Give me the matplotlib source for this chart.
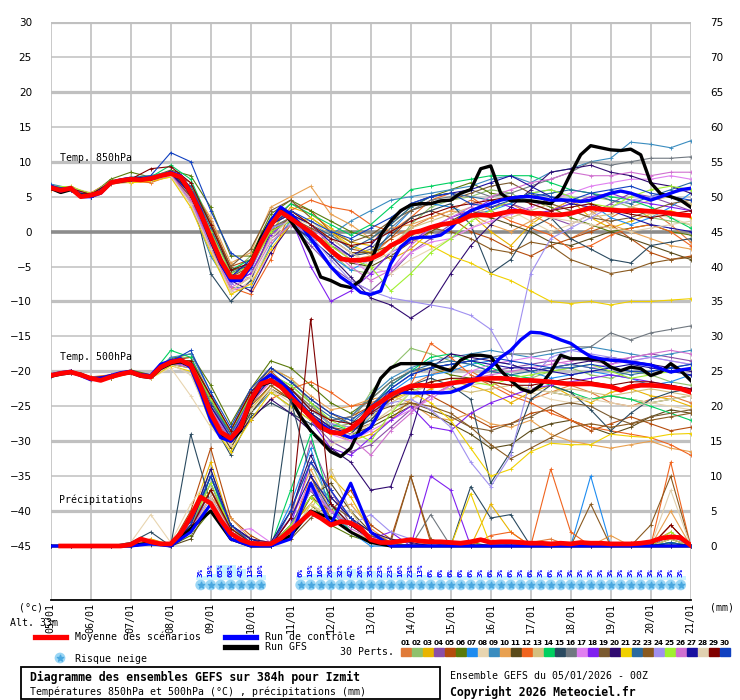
import numpy as np
import matplotlib
matplotlib.use('Agg')
import matplotlib.pyplot as plt
from matplotlib.patches import Rectangle

MONO = 'DejaVu Sans Mono'

HOURS6 = list(range(0, 385, 6))
HOURS12 = list(range(0, 385, 12))
DAY_HOURS = list(range(0, 385, 24))
DATES = ['05/01', '06/01', '07/01', '08/01', '09/01', '10/01', '11/01', '12/01', '13/01',
         '14/01', '15/01', '16/01', '17/01', '18/01', '19/01', '20/01', '21/01']

MEMBER_COLORS = ['#e07b39', '#8fc16c', '#e8b400', '#8b4fa8', '#b54c0c', '#5a7a0a', '#1e8cf0',
                 '#e8d5b0', '#3a8cbf', '#e8a050', '#5a4a1a', '#f0641e', '#d4c080', '#00d060',
                 '#2a4a60', '#707880', '#e080f0', '#8020f0', '#7a5a30', '#300a70', '#f0d000',
                 '#2a6aa0', '#8a5a20', '#a090f0', '#a0f030', '#d070d0', '#1a10a0', '#e0d0b0',
                 '#800000', '#1040c0']

# 850 hPa, 6-hourly
T850_MEAN = [6.3, 5.9, 6.2, 5.0, 5.2, 5.6, 7.0, 7.3, 7.5, 7.4, 7.6, 8.0, 8.3, 7.8, 5.6,
             2.6, -0.8, -4.1, -6.5, -6.5, -4.6, -1.7, 0.9, 2.8, 1.9, 0.9, -0.1, -1.3, -2.7, -3.9,
             -4.1, -4.1, -3.9, -3.2, -2.0, -1.3, -0.2, 0.1, 0.6, 1.0, 1.2, 1.6, 2.3, 2.4, 2.3,
             2.6, 2.9, 2.9, 2.6, 2.6, 2.4, 2.4, 2.6, 3.0, 3.4, 3.2, 3.1, 3.0, 3.0, 3.0,
             2.9, 2.8, 2.6, 2.4, 2.3]
T850_CTRL = [6.5, 5.8, 6.3, 5.0, 5.0, 5.5, 7.0, 7.4, 7.6, 7.5, 7.7, 8.0, 8.5, 8.0, 5.8,
             3.0, -1.0, -4.5, -7.0, -7.0, -5.0, -1.5, 1.5, 3.5, 2.5, 1.0, -1.0, -3.0, -5.0, -6.5,
             -7.5, -8.7, -9.0, -8.5, -4.6, -2.2, -1.0, -0.8, -0.8, -0.5, 0.5, 2.0, 3.0, 3.5, 4.0,
             4.5, 4.8, 5.0, 5.0, 4.8, 4.5, 4.5, 4.5, 4.3, 4.5, 5.0, 5.5, 5.8, 5.5, 5.0,
             4.5, 5.0, 5.5, 6.0, 6.2]
T850_GFS = [6.2, 5.6, 6.0, 5.2, 5.3, 5.6, 7.0, 7.2, 7.4, 7.6, 7.5, 8.0, 8.4, 7.6, 5.4,
            2.5, -1.2, -4.5, -6.8, -7.0, -4.5, -1.0, 1.5, 3.3, 1.5, -0.5, -3.0, -6.5, -7.0, -7.7,
            -8.0, -7.0, -4.5, -0.5, 1.5, 3.0, 3.8, 4.0, 4.0, 4.4, 4.5, 5.5, 6.0, 9.0, 9.4,
            5.5, 4.4, 4.4, 4.4, 4.2, 4.0, 5.4, 8.3, 11.0, 12.3, 12.0, 11.7, 11.6, 11.8, 11.0,
            7.0, 5.4, 5.0, 4.5, 3.5]

# 850 hPa members, 12-hourly
T850_MEMBERS = [
    [6.5, 6.0, 5.5, 7.2, 7.8, 7.2, 8.0, 6.0, -0.5, -7.0, -5.0, 1.5, 3.0, 1.0, -2.0, -4.0, -3.5, -1.0, 0.5, 2.0, 3.0, 4.5, 3.5, 4.0, 2.5, 1.0, -1.0, 0.5, 2.0, 3.5, 3.0, 1.0, -1.5],
    [6.2, 6.3, 5.0, 7.0, 7.5, 8.0, 8.5, 6.5, 0.5, -6.0, -3.5, 2.0, 2.5, 0.0, -3.0, -5.5, -6.0, -3.0, 1.0, 3.5, 4.5, 5.0, 6.0, 5.5, 4.0, 3.0, 4.0, 5.0, 4.5, 3.5, 2.0, 1.5, 1.0],
    [6.0, 6.5, 5.3, 6.8, 7.2, 7.5, 8.0, 4.5, -2.0, -8.5, -6.5, 0.0, 3.5, 2.5, 0.5, -1.5, -2.0, -4.0, -2.5, 0.0, 1.5, 2.5, 0.0, -2.0, 1.0, 3.0, 4.5, 2.0, 0.5, 1.5, 2.5, 3.0, 2.0],
    [6.4, 6.1, 5.1, 7.3, 7.6, 7.4, 8.2, 5.0, -1.5, -7.5, -6.0, -1.0, 1.0, -2.0, -5.0, -7.0, -8.5, -6.0, -3.0, -1.0, 1.0, 2.5, 3.5, 4.0, 3.0, 2.0, 1.0, 2.5, 4.0, 5.5, 5.0, 4.0, 3.0],
    [6.6, 6.2, 5.4, 7.1, 7.4, 7.6, 8.6, 7.0, 1.5, -5.0, -4.0, 1.0, 4.0, 3.0, 0.0, -2.5, -3.0, -1.0, 2.0, 3.0, 2.0, 0.0, -1.0, -2.5, -3.5, -2.0, -1.0, 0.0, 1.0, -1.0, -3.0, -4.0, -3.5],
    [6.3, 6.4, 5.2, 7.5, 8.5, 7.8, 8.8, 8.0, 3.5, -3.5, -3.5, 2.5, 4.5, 3.0, 1.5, 0.0, -1.0, 1.0, 3.5, 5.0, 6.0, 7.0, 5.5, 5.0, 4.5, 3.5, 2.0, 1.0, 0.0, 0.5, 1.0, 0.0, -0.5],
    [6.2, 6.0, 5.0, 6.9, 7.3, 7.7, 8.4, 5.5, -0.5, -6.5, -4.5, 0.5, 1.5, -1.0, -3.5, -5.5, -4.0, 0.0, 3.0, 4.0, 3.5, 2.5, 3.0, 4.0, 5.5, 6.0, 5.0, 4.0, 2.0, 1.0, 2.0, 3.5, 5.5],
    [6.5, 6.3, 5.6, 7.0, 7.0, 7.3, 7.8, 3.5, -3.0, -9.0, -7.0, -2.0, 2.0, 0.5, -1.0, -3.0, -5.0, -6.0, -4.0, -2.5, -1.0, 0.5, 2.0, 3.0, 1.5, 0.0, 1.0, 2.5, 3.5, 3.0, 2.5, 2.0, 1.0],
    [6.8, 6.2, 5.4, 7.2, 7.8, 8.0, 8.6, 4.0, -3.5, -8.0, -8.0, -2.0, 1.5, -1.5, -0.5, 1.5, 3.0, 4.5, 5.0, 5.5, 6.0, 6.5, 7.5, 8.0, 7.0, 8.5, 9.0, 10.0, 10.5, 12.8, 12.5, 12.0, 13.0],
    [6.1, 6.0, 5.3, 6.8, 7.1, 7.4, 8.0, 6.5, 2.0, -4.5, -3.0, 3.5, 5.0, 6.5, 2.5, 1.0, -1.0, 0.5, 1.0, 2.0, 3.0, 2.5, 1.0, 0.0, 1.5, 3.0, 4.5, 3.0, 1.0, 0.0, -1.0, -2.0, -2.5],
    [6.3, 6.1, 5.0, 7.0, 7.6, 7.5, 8.1, 6.0, 0.0, -5.5, -5.0, 0.5, 2.0, 0.0, -2.5, -4.5, -5.0, -3.5, -1.5, 0.0, 1.5, 3.0, 2.0, 1.0, 0.0, -1.5, -2.0, -1.0, 0.0, -1.0, -2.0, -3.0, -4.0],
    [6.4, 6.2, 5.5, 7.2, 7.2, 7.0, 8.0, 5.0, -2.5, -8.0, -9.0, -4.0, 3.0, 4.5, 3.5, 3.0, 1.0, 0.0, 2.0, 4.5, 5.5, 5.0, 3.0, 1.5, 0.5, -0.5, -2.5, -2.0, -0.5, 0.5, 1.0, 0.0, -2.0],
    [6.2, 6.4, 5.3, 6.9, 7.4, 7.6, 8.2, 4.8, -1.5, -7.0, -6.5, -0.5, 2.0, 1.5, -0.5, -2.0, -3.5, -2.0, 0.5, 1.5, 2.5, 3.5, 2.5, 2.0, 3.0, 4.0, 3.0, 2.0, 2.5, 3.5, 4.5, 5.0, 4.0],
    [6.3, 6.3, 5.2, 7.1, 7.7, 7.8, 9.5, 7.5, 1.0, -5.5, -4.0, 1.5, 4.0, 2.5, 1.0, -0.5, 1.0, 3.5, 6.0, 6.5, 7.0, 7.5, 8.0, 8.0, 8.0, 7.0, 6.0, 5.5, 5.0, 4.5, 3.5, 2.0, 0.5],
    [6.5, 6.0, 5.1, 7.0, 7.3, 7.5, 8.3, 6.0, -6.0, -10.0, -7.0, 0.0, 1.5, -0.5, -2.0, -3.5, -3.0, -0.5, 2.0, 3.0, 4.0, 1.0, -6.0, -4.0, 0.5, 2.0, -1.0, -2.5, -4.0, -4.5, -2.0, -1.5, -1.0],
    [6.1, 6.2, 5.0, 7.0, 7.5, 7.3, 8.0, 5.5, -1.0, -7.0, -5.5, 0.5, 2.0, 0.0, -2.0, -3.5, -2.5, 0.5, 3.0, 4.5, 5.0, 6.0, 5.0, 5.5, 6.5, 7.5, 8.5, 10.0, 9.5, 10.0, 10.5, 10.5, 10.7],
    [6.0, 6.1, 5.2, 7.1, 7.5, 7.5, 8.1, 4.0, -2.5, -8.5, -7.5, -3.0, 1.0, 0.5, -1.5, -4.0, -6.0, -5.5, -3.0, -1.5, -1.0, 0.5, 1.5, 2.5, 3.5, 4.5, 5.5, 6.5, 7.0, 7.5, 7.5, 8.0, 7.5],
    [6.3, 6.0, 5.3, 6.9, 7.3, 7.6, 8.3, 5.0, -2.0, -7.5, -6.0, -0.5, 2.0, -5.0, -10.0, -8.5, -6.0, -3.0, -1.5, 0.5, 2.0, 3.0, 4.5, 3.5, 2.5, 3.0, 4.0, 5.0, 5.5, 4.5, 4.0, 3.5, 3.0],
    [6.4, 6.3, 5.2, 7.0, 7.6, 7.7, 8.2, 6.5, 1.0, -5.0, -2.5, 3.0, 4.5, 2.0, 0.0, -1.5, -0.5, 1.5, 3.0, 4.0, 4.5, 5.5, 6.5, 7.0, 5.5, 4.0, 3.0, 2.0, 1.5, 2.0, 3.0, 4.0, 4.5],
    [6.2, 6.1, 5.0, 7.1, 7.4, 7.5, 8.4, 6.0, -0.5, -7.0, -8.5, -3.0, 1.0, -1.0, -3.5, -6.5, -9.5, -10.5, -12.4, -10.5, -6.0, -2.0, 1.0, 3.5, 6.0, 8.5, 9.0, 9.5, 8.5, 8.0, 7.0, 6.5, 5.5],
    [6.0, 6.3, 5.4, 7.1, 7.0, 7.2, 7.8, 3.5, -3.0, -9.0, -7.5, -2.5, 1.0, 2.0, 0.0, -2.0, -3.0, -2.0, -1.0, -2.0, -3.5, -4.5, -6.0, -7.0, -8.5, -10.0, -10.3, -10.0, -10.5, -10.0, -10.0, -9.8, -9.6],
    [6.5, 6.2, 5.3, 7.2, 7.5, 7.5, 8.5, 6.5, 0.5, -6.0, -4.5, 1.0, 2.5, 1.0, -0.5, -2.5, -1.0, 1.0, 3.5, 5.0, 5.5, 5.0, 4.5, 4.5, 5.0, 5.5, 6.0, 5.5, 4.5, 4.0, 5.0, 6.0, 7.0],
    [6.3, 6.2, 5.1, 6.9, 7.6, 7.6, 8.1, 5.0, -1.0, -6.5, -5.0, 0.0, 2.0, 0.5, -1.0, -3.0, -3.0, -2.0, -0.5, 0.5, 0.0, -1.0, -2.5, -3.0, -1.5, -2.0, -4.0, -5.0, -6.0, -5.5, -4.5, -4.0, -3.7],
    [6.2, 6.0, 5.2, 7.0, 7.4, 7.4, 8.0, 4.5, -2.0, -7.5, -5.5, 0.5, 1.5, -0.5, -4.0, -7.0, -8.5, -9.5, -10.0, -10.5, -11.0, -12.0, -14.0, -19.0, -6.0, -1.0, 0.5, 2.0, 3.5, 4.5, 5.0, 5.5, 6.0],
    [6.5, 6.4, 5.4, 7.2, 7.6, 7.8, 8.6, 6.0, 0.0, -6.0, -5.0, 0.0, 1.5, 0.0, -2.0, -4.0, -5.0, -8.5, -6.0, -3.0, -1.0, 1.5, 3.0, 4.5, 5.5, 6.0, 5.0, 4.0, 3.5, 5.0, 6.0, 6.5, 6.0],
    [6.1, 6.2, 5.1, 7.0, 7.3, 7.5, 8.2, 4.5, -2.5, -8.0, -6.5, -1.5, 1.0, -0.5, -2.5, -5.0, -7.0, -5.5, -2.0, 0.5, 2.0, 3.5, 5.0, 6.0, 7.0, 7.5, 8.5, 8.0, 8.0, 8.5, 8.0, 8.5, 8.5],
    [6.4, 6.1, 5.3, 7.1, 7.5, 7.6, 8.3, 5.5, -1.0, -6.5, -4.0, 1.0, 2.5, 1.0, -1.5, -3.5, -2.0, 1.5, 4.0, 5.0, 5.5, 6.0, 7.0, 8.0, 6.5, 5.0, 4.0, 3.5, 3.0, 2.0, 1.0, 0.5, 0.0],
    [6.2, 6.3, 5.2, 6.8, 7.2, 7.4, 8.0, 4.0, -2.5, -8.5, -6.5, -1.0, 2.0, 1.0, -1.0, -3.0, -4.5, -3.0, -1.0, 0.5, 1.5, 2.0, 2.5, 3.0, 2.5, 2.0, 1.5, 1.0, 0.5, 0.0, 0.5, 1.0, 1.5],
    [6.3, 6.2, 5.3, 7.0, 7.5, 9.0, 9.3, 7.0, 1.0, -5.5, -4.5, 1.0, 3.0, 1.0, -1.0, -2.0, -1.5, 0.0, 1.5, 2.5, 3.5, 4.0, 4.5, 5.0, 4.0, 3.0, 3.5, 4.0, 3.0, 2.5, 2.0, 2.5, 3.0],
    [6.6, 6.0, 5.0, 7.0, 7.5, 8.0, 11.3, 10.0, 3.0, -3.0, -5.0, 1.0, 3.0, 1.5, 0.0, -1.0, 0.5, 2.0, 4.0, 5.0, 5.5, 4.0, 3.5, 4.5, 5.5, 5.0, 4.5, 5.5, 6.0, 6.5, 5.5, 5.0, 4.5],
]

# 500 hPa, 6-hourly
T500_MEAN = [-20.6, -20.3, -20.1, -20.5, -21.0, -21.3, -20.8, -20.4, -20.1, -20.6, -20.8, -19.4, -18.7, -18.4, -19.1,
             -22.2, -26.0, -28.7, -29.6, -28.0, -24.1, -21.8, -21.3, -22.2, -23.7,
             -25.1, -26.5, -28.0, -28.7, -28.9, -28.2, -27.0, -25.3, -24.4, -23.4,
             -22.7, -22.1, -22.0, -22.1, -22.0, -21.7, -21.5, -21.3, -21.1, -21.0,
             -21.0, -21.1, -21.3, -21.3, -21.4, -21.5, -21.7, -21.8, -21.8, -21.8,
             -22.0, -22.2, -22.7, -22.2, -22.0, -22.0, -22.1, -22.3, -22.5, -23.0]
T500_CTRL = [-20.5, -20.2, -20.0, -20.6, -21.2, -21.0, -20.6, -20.2, -20.0, -20.5, -20.6, -19.0, -18.5, -18.2, -19.5,
             -23.0, -27.0, -29.5, -30.0, -28.0, -24.0, -21.5, -20.5, -21.5, -23.0,
             -25.0, -26.5, -27.5, -28.5, -29.0, -29.5, -29.0, -28.0, -25.5, -23.0,
             -23.0, -23.1, -23.1, -23.0, -23.1, -23.0, -22.5, -21.8, -20.5, -19.4,
             -18.0, -17.0, -15.5, -14.4, -14.5, -14.9, -15.5, -16.0, -17.0, -17.9,
             -18.2, -18.4, -18.5, -18.7, -18.9, -19.1, -19.6, -20.1, -19.8, -19.6]
T500_GFS = [-20.7, -20.4, -20.2, -20.4, -21.0, -21.2, -20.7, -20.3, -20.2, -20.7, -20.9, -19.6, -18.9, -18.6, -19.3,
            -22.5, -26.5, -29.0, -30.0, -28.5, -24.5, -22.0, -21.5, -22.0, -24.0,
            -26.5, -28.5, -30.0, -31.5, -32.2, -31.0, -28.0, -24.0, -21.0, -19.5,
            -18.9, -18.9, -18.9, -18.9, -19.5, -19.9, -18.4, -17.7, -17.7, -17.9,
            -19.9, -21.3, -22.5, -23.0, -22.0, -20.1, -17.7, -18.2, -18.2, -18.2,
            -18.4, -19.4, -19.9, -19.4, -19.6, -20.6, -20.1, -18.9, -19.9, -21.3]

# 500 hPa members, 12-hourly
T500_MEMBERS = [
    [-20.5, -20.0, -21.0, -20.5, -20.0, -20.5, -18.5, -18.5, -24.0, -29.0, -25.0, -21.0, -22.5, -25.0, -27.5, -28.0, -27.0, -24.0, -22.0, -20.5, -19.5, -20.0, -21.5, -23.0, -24.0, -23.0, -22.0, -23.0, -24.5, -25.0, -24.0, -23.5, -24.5],
    [-20.8, -20.2, -21.2, -20.6, -20.2, -20.7, -18.0, -18.0, -24.5, -29.5, -23.0, -19.5, -21.0, -24.5, -28.0, -27.5, -23.0, -19.5, -16.7, -17.5, -18.5, -19.0, -20.0, -20.5, -21.0, -20.0, -19.5, -20.5, -21.0, -20.0, -20.5, -21.5, -22.0],
    [-20.4, -20.0, -20.8, -21.0, -20.3, -21.0, -19.0, -19.5, -27.0, -30.5, -25.5, -22.0, -24.0, -26.5, -28.5, -30.0, -29.0, -27.0, -24.0, -22.5, -21.5, -22.0, -23.0, -24.5, -23.0, -22.0, -23.5, -24.5, -23.0, -22.5, -23.5, -24.0, -25.0],
    [-20.6, -20.3, -21.1, -20.7, -20.0, -20.6, -18.8, -19.0, -26.0, -30.0, -24.5, -21.0, -23.5, -27.0, -30.0, -31.5, -30.5, -28.0, -25.5, -23.5, -22.0, -21.0, -20.0, -19.5, -19.0, -18.5, -18.0, -18.5, -19.0, -18.0, -17.5, -18.0, -18.5],
    [-20.7, -20.1, -21.0, -20.9, -20.2, -20.9, -18.5, -18.0, -23.5, -28.5, -23.0, -20.0, -22.5, -25.5, -27.0, -26.5, -25.0, -23.5, -22.5, -23.5, -25.0, -26.5, -28.0, -27.5, -26.0, -25.5, -27.0, -28.5, -27.5, -26.5, -27.5, -28.5, -28.0],
    [-20.5, -20.0, -20.9, -20.6, -19.8, -20.5, -18.2, -17.5, -22.0, -27.5, -22.5, -18.5, -19.5, -22.0, -24.5, -26.0, -24.0, -21.5, -20.0, -19.5, -20.5, -21.0, -21.5, -22.0, -22.5, -23.0, -23.5, -24.0, -23.5, -24.0, -24.5, -24.0, -23.5],
    [-20.6, -20.2, -21.0, -20.8, -20.1, -20.8, -18.7, -19.0, -25.5, -29.5, -24.0, -21.0, -23.0, -26.0, -28.5, -29.5, -26.5, -23.0, -21.0, -20.5, -20.0, -19.0, -18.5, -19.0, -20.0, -21.0, -20.5, -20.0, -20.5, -21.0, -22.0, -21.5, -20.5],
    [-20.5, -20.0, -21.0, -20.7, -20.0, -21.0, -19.5, -23.5, -28.0, -31.0, -26.0, -22.5, -25.5, -28.5, -30.5, -29.5, -27.5, -25.5, -24.0, -23.0, -22.5, -22.0, -21.5, -22.0, -23.0, -24.0, -24.5, -24.0, -23.5, -24.0, -24.5, -25.0, -25.5],
    [-20.5, -20.1, -21.0, -20.8, -20.2, -20.8, -18.0, -17.5, -23.0, -29.0, -26.0, -23.0, -25.0, -27.0, -28.0, -26.5, -23.5, -21.0, -19.5, -18.5, -18.0, -17.5, -17.0, -17.5, -18.0, -17.5, -17.0, -16.5, -17.0, -17.5, -18.0, -17.5, -17.0],
    [-20.7, -20.0, -21.2, -20.8, -20.1, -20.6, -18.5, -18.5, -24.5, -28.5, -22.5, -19.5, -21.0, -23.5, -25.5, -25.0, -24.0, -23.5, -24.5, -26.5, -27.0, -26.0, -27.5, -28.0, -27.0, -29.0, -30.0, -30.5, -31.0, -30.5, -30.0, -31.0, -31.5],
    [-20.6, -20.2, -21.0, -20.9, -20.3, -20.9, -19.0, -19.5, -26.5, -31.0, -26.0, -22.5, -24.0, -26.0, -28.0, -29.0, -28.0, -26.5, -25.0, -26.0, -27.5, -29.0, -31.0, -30.5, -28.5, -27.5, -27.0, -28.0, -29.0, -28.0, -26.5, -25.5, -26.0],
    [-20.4, -19.9, -20.8, -20.5, -20.0, -20.7, -18.8, -19.0, -24.0, -29.0, -27.0, -24.0, -22.5, -21.5, -23.0, -25.0, -24.5, -23.5, -22.0, -16.0, -18.0, -20.5, -22.0, -23.5, -24.5, -26.0, -27.0, -28.0, -28.5, -29.0, -29.5, -30.5, -32.0],
    [-20.6, -20.1, -21.0, -20.8, -20.1, -20.9, -19.0, -19.5, -26.0, -30.0, -24.5, -21.5, -23.5, -26.0, -28.5, -28.5, -26.5, -24.5, -23.0, -22.0, -22.5, -23.0, -22.5, -22.0, -22.5, -23.0, -22.5, -23.0, -23.5, -23.0, -22.5, -23.0, -23.5],
    [-20.5, -20.0, -21.0, -20.6, -20.0, -20.6, -17.0, -18.0, -24.0, -29.0, -23.5, -20.5, -22.5, -25.5, -27.5, -28.5, -25.5, -22.0, -20.0, -18.0, -17.5, -18.5, -19.5, -20.5, -21.0, -22.0, -23.0, -24.0, -23.5, -24.0, -25.0, -26.0, -27.0],
    [-20.7, -20.2, -21.1, -20.9, -20.2, -20.8, -18.7, -19.5, -27.0, -32.0, -26.5, -24.5, -26.0, -27.5, -29.0, -28.5, -27.0, -24.0, -22.0, -21.0, -22.0, -24.0, -36.0, -31.5, -24.0, -22.0, -23.0, -25.5, -28.5, -26.0, -24.0, -23.0, -22.5],
    [-20.5, -20.0, -21.0, -20.8, -20.0, -20.8, -18.5, -19.0, -25.0, -29.5, -24.0, -21.0, -22.5, -25.0, -27.0, -26.5, -24.0, -21.5, -20.0, -19.5, -19.0, -18.5, -18.0, -17.5, -17.5, -17.0, -16.5, -16.5, -14.5, -15.5, -14.5, -14.0, -13.5],
    [-20.6, -20.1, -21.0, -20.8, -20.1, -20.8, -18.7, -19.5, -25.5, -29.5, -24.5, -21.5, -23.5, -26.5, -29.0, -30.0, -28.5, -27.0, -25.5, -24.0, -22.0, -20.0, -19.0, -18.5, -18.0, -18.5, -19.0, -19.5, -19.0, -18.5, -18.0, -18.5, -19.0],
    [-20.5, -20.0, -20.9, -20.7, -20.1, -20.7, -18.8, -19.2, -25.0, -29.0, -24.0, -21.0, -23.0, -27.0, -31.0, -32.0, -29.5, -27.0, -25.0, -28.0, -28.5, -26.0, -24.5, -23.5, -22.5, -22.0, -21.5, -21.0, -20.5, -21.0, -21.5, -22.0, -22.5],
    [-20.6, -20.2, -21.0, -20.9, -20.2, -20.8, -18.5, -18.5, -24.0, -28.5, -23.0, -19.5, -21.5, -24.0, -26.0, -27.5, -26.0, -25.0, -24.5, -25.5, -26.5, -28.0, -28.5, -27.5, -26.5, -25.0, -24.5, -25.0, -26.5, -27.5, -26.5, -26.0, -25.5],
    [-20.5, -20.0, -21.0, -20.7, -20.0, -20.7, -18.6, -19.0, -25.5, -30.0, -27.0, -24.0, -26.0, -28.5, -31.0, -33.0, -37.0, -36.5, -29.0, -19.5, -17.5, -18.0, -18.5, -19.0, -20.0, -19.5, -19.0, -18.5, -18.0, -18.5, -19.0, -19.5, -20.0],
    [-20.7, -20.1, -21.1, -20.9, -20.3, -21.0, -19.2, -20.0, -27.5, -31.5, -27.0, -23.0, -25.0, -27.0, -29.0, -28.5, -26.0, -24.0, -23.0, -24.5, -27.0, -31.0, -35.0, -34.0, -31.5, -30.3, -30.5, -30.5, -29.0, -29.3, -29.5, -29.0, -28.9],
    [-20.6, -20.1, -21.0, -20.8, -20.1, -20.8, -18.7, -18.8, -24.5, -29.0, -23.5, -20.5, -22.0, -24.5, -26.5, -27.5, -25.0, -22.0, -20.0, -19.0, -18.5, -19.0, -20.0, -20.5, -20.0, -19.5, -19.0, -19.5, -20.0, -20.5, -20.0, -19.5, -19.0],
    [-20.5, -20.0, -20.9, -20.7, -20.0, -20.7, -18.6, -19.0, -25.0, -29.5, -25.0, -22.0, -24.0, -26.0, -28.0, -28.5, -27.5, -26.0, -24.5, -25.0, -26.0, -28.0, -30.5, -32.5, -31.0, -29.5, -28.0, -27.5, -28.0, -27.5, -27.0, -26.5, -26.0],
    [-20.6, -20.1, -21.0, -20.8, -20.1, -20.8, -18.7, -19.0, -25.5, -29.5, -24.0, -21.0, -23.0, -25.5, -27.5, -28.0, -26.0, -24.5, -24.0, -25.5, -28.0, -33.0, -36.5, -32.0, -21.0, -18.0, -17.0, -17.5, -18.0, -18.5, -18.0, -18.5, -19.0],
    [-20.5, -20.0, -21.0, -20.7, -20.0, -20.7, -18.5, -18.5, -24.0, -28.5, -23.5, -20.5, -22.0, -24.5, -27.0, -28.5, -30.0, -26.0, -23.0, -21.5, -21.0, -21.5, -22.0, -21.0, -20.5, -20.0, -19.5, -19.0, -20.0, -21.0, -20.5, -20.0, -19.5],
    [-20.6, -20.2, -21.0, -20.8, -20.2, -20.8, -18.7, -19.2, -25.5, -30.0, -24.5, -21.5, -23.5, -26.5, -28.5, -29.5, -32.0, -28.5, -26.0, -23.5, -22.0, -21.0, -20.5, -20.0, -19.5, -19.0, -18.5, -18.0, -18.5, -18.0, -17.5, -17.0, -17.5],
    [-20.5, -20.0, -20.9, -20.7, -20.1, -20.7, -18.7, -19.0, -25.0, -29.5, -24.5, -21.0, -23.0, -26.0, -28.0, -29.0, -26.0, -22.5, -20.5, -19.5, -19.0, -18.5, -19.0, -19.5, -19.5, -20.0, -20.5, -20.0, -19.5, -19.0, -19.5, -20.0, -20.5],
    [-20.6, -20.1, -21.0, -20.8, -20.2, -20.9, -19.0, -20.5, -27.0, -30.5, -25.5, -22.5, -24.5, -26.5, -28.5, -29.0, -27.5, -25.5, -23.0, -22.0, -21.5, -21.0, -21.5, -22.0, -22.5, -23.0, -23.5, -24.0, -24.5, -25.0, -24.5, -24.0, -23.5],
    [-20.5, -20.0, -21.0, -20.7, -20.0, -20.6, -18.5, -18.5, -23.5, -28.5, -23.0, -20.5, -22.5, -25.5, -27.0, -27.5, -26.0, -24.0, -22.5, -21.5, -21.0, -21.0, -21.5, -22.0, -22.0, -21.5, -21.0, -21.5, -22.0, -21.5, -21.5, -22.0, -22.5],
    [-20.6, -20.0, -21.0, -20.8, -20.1, -20.7, -18.6, -17.0, -23.0, -28.0, -22.5, -19.5, -21.5, -24.0, -26.0, -27.0, -25.0, -22.5, -20.5, -19.5, -19.0, -18.5, -18.0, -18.5, -19.0, -19.5, -19.5, -19.0, -19.5, -20.0, -20.0, -19.5, -19.0],
]

# precipitation (mm), mean 6-hourly, others 12-hourly
PRECIP_MEAN = [np.nan, 0, 0, 0, 0, 0, 0, 0, 0.2, 1.0, 0.6, 0.3, 0.3, 1.8, 4.2, 7.0, 6.1, 3.7, 1.8, 0.9,
               0.4, 0.3, 0.3, 1.1, 2.3, 3.5, 4.8, 4.0, 3.0, 3.5, 3.3, 2.5, 0.9, 0.5, 0.5, 0.7, 0.9, 0.7,
               0.6, 0.6, 0.5, 0.4, 0.6, 0.9, 0.5, 0.6, 0.6, 0.5, 0.4, 0.4, 0.3, 0.4, 0.3, 0.5, 0.4,
               0.4, 0.3, 0.3, 0.3, 0.4, 0.6, 1.1, 1.3, 1.2, 0.1]
PRECIP_CTRL = [0, 0, 0, 0, 0, 0.3, 0, 2.0, 6.0, 1.0, 0, 0, 1.0, 9.0, 3.0, 9.0, 2.0,
               0, 0, 0, 0, 0, 0, 0, 0, 0, 0, 0, 0, 0, 0, 0, 0]
PRECIP_GFS = [0, 0, 0, 0, 0, 0.5, 0, 2.5, 5.0, 1.0, 0, 0, 1.5, 5.0, 4.0, 2.0, 0.5,
              0, 0, 0, 0, 0, 0, 0, 0, 0, 0, 0, 0, 0, 0, 0, 0]
PRECIP_MEMBERS = [
    [0, 0, 0, 0, 0.5, 1.0, 0, 2.0, 6.0, 1.5, 0.3, 0, 3.0, 8.0, 4.0, 2.0, 0.5, 0, 0, 0.5, 0, 0, 0, 0, 0.5, 1.0, 0, 0, 0, 0, 0.5, 2.0, 0],
    [0, 0, 0, 0, 0, 0.5, 0, 3.0, 9.0, 2.0, 0.5, 0, 5.0, 12.0, 6.0, 3.0, 1.0, 0, 0, 0, 0, 0, 0, 0, 0, 0, 0, 0, 0, 0, 0, 1.0, 0],
    [0, 0, 0, 0, 0, 1.0, 0.2, 4.0, 12.0, 3.0, 0.5, 0, 1.0, 6.0, 10.0, 7.0, 2.0, 0.5, 0, 0, 0, 0, 6.0, 2.0, 0, 0, 0, 0, 0, 0, 0, 0.5, 0],
    [0, 0, 0, 0, 0.3, 0.5, 0, 2.5, 7.0, 2.5, 1.0, 0.5, 4.0, 15.0, 8.0, 3.0, 1.5, 0, 0, 0, 0, 0, 0, 0, 0, 0, 0, 0, 0, 0, 0, 1.5, 0],
    [0, 0, 0, 0, 0, 0.5, 0, 5.0, 14.0, 4.0, 1.5, 0, 2.0, 9.0, 5.0, 8.0, 3.0, 1.0, 10.0, 0.5, 0, 0, 0, 0, 0, 0, 0, 0, 0, 0.5, 0, 3.0, 0],
    [0, 0, 0, 0, 0, 0.3, 0, 1.5, 5.0, 1.0, 0, 0, 3.0, 6.0, 3.0, 1.5, 0.5, 0, 0, 0, 0, 0.5, 0, 0, 0, 0, 0, 0, 0, 0, 0, 1.0, 0],
    [0, 0, 0, 0, 0, 0.2, 0, 2.0, 8.0, 2.0, 0.3, 0, 6.0, 14.0, 5.0, 2.0, 0, 0, 0, 0, 0, 0, 0, 0, 0, 0, 0, 10.0, 0, 0, 0, 0, 0],
    [0, 0, 0, 0, 0.5, 4.5, 0.5, 6.0, 10.0, 3.0, 1.0, 0.5, 2.0, 5.0, 6.0, 4.0, 1.5, 1.0, 0.5, 0, 0, 0.5, 1.0, 0, 0, 0, 0, 0, 0, 0, 0, 0.5, 0],
    [0, 0, 0, 0, 0, 0.5, 0, 3.0, 11.0, 2.0, 0.5, 0, 2.0, 9.0, 7.0, 4.0, 1.0, 0, 0, 0, 0, 0, 0, 0, 0, 0, 0, 0, 0, 0, 0, 0, 0],
    [0, 0, 0, 0, 0, 0.8, 0.3, 2.0, 7.0, 4.0, 1.0, 0, 4.0, 11.0, 5.0, 6.0, 2.5, 0.5, 0, 0, 0, 0, 0, 0, 0, 0, 0, 0, 1.5, 0, 0, 5.0, 0],
    [0, 0, 0, 0, 0, 0.5, 0, 1.0, 6.0, 2.5, 0.5, 0, 3.0, 7.0, 9.0, 5.0, 2.0, 0, 0, 0, 0, 0, 0, 0, 0, 0, 0, 0, 0, 0, 0, 0.5, 0],
    [0, 0, 0, 0, 0, 0.3, 0, 2.5, 8.0, 2.0, 0.5, 0, 2.0, 10.0, 4.0, 3.0, 1.0, 0, 0, 0, 0, 0, 1.5, 2.0, 0, 11.0, 2.0, 0, 0, 0, 0, 12.0, 0],
    [0, 0, 0, 0, 0, 0.5, 0, 3.0, 9.0, 2.5, 0.5, 0, 1.5, 5.0, 11.0, 5.0, 1.0, 0, 0, 0, 0, 0, 0, 0, 0, 0, 0, 0, 0, 0, 0, 1.0, 0],
    [0, 0, 0, 0, 0, 0.3, 0, 2.0, 10.0, 2.0, 0.5, 0, 8.0, 16.0, 6.0, 2.0, 0.5, 0, 0, 0, 0, 0, 0, 0, 0, 0, 0, 0, 0, 0, 0, 0.5, 0],
    [0, 0, 0, 0, 0.5, 2.0, 0, 16.0, 6.0, 2.0, 0.5, 0.5, 21.0, 10.0, 5.0, 3.0, 1.0, 0, 0, 0, 0, 8.5, 4.0, 4.5, 0, 0, 0, 0, 0, 0, 0, 0, 0],
    [0, 0, 0, 0, 0, 0.5, 0, 3.0, 8.0, 3.0, 1.0, 0, 2.0, 8.0, 5.0, 3.0, 1.0, 0, 0, 4.5, 0, 0, 0, 0, 0, 0, 0, 0, 0, 0, 0, 0, 0],
    [0, 0, 0, 0, 0, 0.5, 0, 2.5, 5.0, 2.0, 2.5, 0.5, 4.0, 9.0, 5.0, 3.0, 1.5, 0, 0, 0, 0, 0, 0, 0, 0, 0, 0, 0, 0, 0, 0, 0, 0],
    [0, 0, 0, 0, 0, 0.5, 0, 3.0, 9.0, 2.0, 0.5, 0, 3.0, 12.0, 8.0, 4.0, 1.0, 2.0, 0, 10.0, 8.0, 0, 0, 0, 0, 0, 0, 0, 0, 0, 0, 0, 0],
    [0, 0, 0, 0, 0, 0.3, 0, 2.0, 7.0, 2.0, 0.5, 0, 1.0, 4.0, 6.0, 4.0, 2.0, 0.5, 0, 0, 0, 0, 0, 0, 0, 0, 0, 0, 0, 0, 0, 0, 0],
    [0, 0, 0, 0, 0, 0.5, 0, 3.5, 11.0, 3.0, 1.0, 0.5, 5.0, 13.0, 7.0, 4.0, 2.0, 1.0, 0.5, 0, 0, 0, 0, 0, 0, 0, 0, 0, 0, 0, 0, 0, 0],
    [0, 0, 0, 0, 0, 0.5, 0, 4.0, 8.0, 3.0, 0.5, 0, 3.0, 6.0, 4.0, 2.0, 1.0, 0.5, 0, 0, 0, 7.5, 0, 0, 0, 0, 0, 0, 0, 0, 0, 0, 0],
    [0, 0, 0, 0, 0, 0.5, 0, 2.0, 6.0, 2.0, 0.5, 0, 3.0, 8.0, 4.0, 2.0, 0.5, 0, 0, 0, 0, 0, 0, 0, 0, 0, 0, 0, 0, 0, 0, 0, 0],
    [0, 0, 0, 0, 0, 0.3, 0, 2.5, 8.0, 2.5, 0.5, 0, 2.0, 7.0, 5.0, 3.0, 1.5, 0.5, 10.0, 1.0, 0, 0, 0, 0, 0, 0, 0, 6.0, 0, 0, 3.0, 10.0, 0],
    [0, 0, 0, 0, 0, 0.5, 0, 2.0, 6.0, 2.0, 0.5, 0, 2.0, 9.0, 5.0, 3.0, 4.5, 2.0, 1.0, 0.5, 0, 0, 0, 0, 0, 0, 0, 0, 0, 0, 0, 0, 0],
    [0, 0, 0, 0, 0, 0.5, 0, 3.0, 9.0, 2.5, 0.5, 0, 3.0, 7.0, 4.0, 3.0, 1.0, 0.5, 0, 0, 0, 0, 0, 0, 0, 0, 0, 0, 0, 0, 0, 2.0, 0],
    [0, 0, 0, 0, 0, 0.5, 0, 2.5, 7.0, 2.0, 0.5, 0, 2.5, 8.0, 5.0, 2.5, 1.0, 0, 0, 0, 0, 0, 0, 0, 0, 0, 0, 0, 0, 0, 0, 0, 0],
    [0, 0, 0, 0, 0, 0.3, 0, 3.0, 10.0, 3.0, 1.0, 0, 4.0, 10.0, 6.0, 3.0, 1.0, 0, 0, 0, 0, 0, 0, 0, 0, 0, 0, 0, 0, 0, 0, 0, 0],
    [0, 0, 0, 0, 0, 0.5, 0, 2.0, 7.0, 2.0, 0.5, 0, 1.5, 6.0, 4.0, 2.0, 1.0, 0, 0, 0, 0, 0, 0, 0, 0, 0, 0, 0, 0, 0, 0, 8.0, 0],
    [0, 0, 0, 0, 0, 0.3, 0, 2.5, 8.0, 2.5, 0.5, 0, 4.0, 32.5, 6.0, 3.0, 1.0, 0, 0, 0, 0, 0, 0, 0, 0, 0, 0, 0, 0, 0, 0, 3.0, 0],
    [0, 0, 0, 0, 0, 0.5, 0, 3.5, 10.0, 3.0, 0.5, 0, 5.0, 12.0, 8.0, 4.0, 1.0, 0, 0, 0, 0, 0, 0, 0, 0, 0, 0, 0, 0, 0, 0, 0.5, 0],
]

# snow risk (% of members), 6-hourly
SNOW_HOURS_1 = [90, 96, 102, 108, 114, 120, 126]
SNOW_PCT_1 = [3, 19, 65, 68, 42, 13, 10]
SNOW_HOURS_2 = list(range(150, 379, 6))
SNOW_PCT_2 = [6, 19, 16, 26, 32, 42, 26, 35, 23, 23, 16, 23, 13,
              6, 6, 6, 6, 6, 3, 6, 3, 6, 3, 6, 3,
              6, 3, 3, 3, 3, 3, 3, 3, 3, 3, 3, 3, 3, 3]

fig = plt.figure(figsize=(7.4, 7.0), dpi=100)
ax = fig.add_axes([50.7 / 740, 1 - 600 / 700, 640 / 740, 578 / 700])
ax.set_xlim(0, 384)
ax.set_ylim(-52.73, 30)
ax2 = ax.twinx()
ax2.set_ylim(-52.73 + 45, 30 + 45)

# grid
for h in DAY_HOURS:
    ax.axvline(h, color='#c0c0c0', lw=1.2, zorder=0)
for v in range(-45, 31, 5):
    if v == 0:
        ax.axhline(0, color='#8c8c8c', lw=2.6, zorder=0.5)
    else:
        ax.axhline(v, color='#c0c0c0', lw=2.3 if v % 10 == 0 else 1.1, zorder=0)

for spine in ['top', 'left', 'right']:
    ax.spines[spine].set_visible(False)
    ax2.spines[spine].set_visible(False)
ax.spines['bottom'].set_color('black')
ax.spines['bottom'].set_linewidth(1.3)
ax2.spines['bottom'].set_visible(False)

ax.set_yticks(range(-45, 31, 5))
ax.tick_params(axis='y', length=0, pad=13.5, labelsize=7.5)
ax2.set_yticks(range(0, 76, 5))
ax2.tick_params(axis='y', length=0, pad=13.9, labelsize=7.5)
ax.set_xticks(DAY_HOURS)
ax.set_xticklabels(DATES, rotation=90, fontsize=7.2, family=MONO, va='top')
ax.tick_params(axis='x', length=0, pad=2)

# members
for i in range(30):
    c = MEMBER_COLORS[i]
    kw = dict(color=c, lw=0.8, marker='+', ms=3, mew=0.6, zorder=2)
    ax.plot(HOURS12[:len(T850_MEMBERS[i])], T850_MEMBERS[i], **kw)
    ax.plot(HOURS12[:len(T500_MEMBERS[i])], T500_MEMBERS[i], **kw)
    ax2.plot(HOURS12[:len(PRECIP_MEMBERS[i])], PRECIP_MEMBERS[i], **kw)

for series in (T850_GFS, T500_GFS):
    ax.plot(HOURS6, series, color='black', lw=2.4, zorder=3)
for series in (T850_CTRL, T500_CTRL):
    ax.plot(HOURS6, series, color='#0000ff', lw=2.4, zorder=4)
for series in (T850_MEAN, T500_MEAN):
    ax.plot(HOURS6, series, color='#ff0000', lw=3.4, zorder=5)
ax2.plot(HOURS12, PRECIP_GFS, color='black', lw=2.2, zorder=3)
ax2.plot(HOURS12, PRECIP_CTRL, color='#0000ff', lw=2.2, zorder=4)
ax2.plot(HOURS6, PRECIP_MEAN, color='#ff0000', lw=3.4, zorder=5)

# snow risk row
px = 75 / 524
for hours, pcts in ((SNOW_HOURS_1, SNOW_PCT_1), (SNOW_HOURS_2, SNOW_PCT_2)):
    ax2.bar(hours, [(3 + p * 0.18) * px for p in pcts], bottom=-4.87, width=6,
            color='#ccf4ff', zorder=1)
    ax2.scatter(hours, [-5.58] * len(hours), s=60, color='#9ad6f5', edgecolors='none', zorder=2)
    ax2.scatter(hours, [-5.58] * len(hours), s=22, marker='*', color='#4aa8e0', zorder=3)
    for h, p in zip(hours, pcts):
        ax2.text(h, -4.45, f'{p}%', rotation=90, ha='center', va='bottom', fontsize=5.3,
                 color='#0000ff', family=MONO, fontweight='bold', zorder=4)

# labels and legend in pixel coordinates
lay = fig.add_axes([0, 0, 1, 1])
lay.set_xlim(0, 740)
lay.set_ylim(700, 0)
lay.axis('off')

def txt(x, y, s, size=7.1, **kw):
    lay.text(x, y, s, fontsize=size, family=MONO, va='center', **kw)

txt(60, 158, 'Temp. 850hPa')
txt(60, 357, 'Temp. 500hPa')
txt(59, 500, 'Précipitations')
txt(43, 607, '(°c)', ha='right')
txt(10, 623, 'Alt. 33m')
txt(710, 607, '(mm)')

lay.plot([35, 66], [637, 637], color='#ff0000', lw=3.8)
txt(75, 637, 'Moyenne des scénarios')
lay.plot([225, 256], [637, 637], color='#0000ff', lw=3.8)
txt(265, 637, 'Run de contrôle')
lay.plot([225, 256], [647, 647], color='black', lw=3.8)
txt(265, 647, 'Run GFS')
lay.scatter([60], [658], s=60, color='#9ad6f5', edgecolors='none')
lay.scatter([60], [658], s=22, marker='*', color='#4aa8e0')
txt(75, 659, 'Risque neige')
txt(340, 652, '30 Perts.')

for i, c in enumerate(MEMBER_COLORS):
    lay.add_patch(Rectangle((400.5 + 11 * i, 648), 10, 8, color=c))
    lay.text(405.5 + 11 * i, 643, '%02d' % (i + 1), fontsize=5.2, fontweight='bold',
             ha='center', va='center')

lay.add_patch(Rectangle((20.5, 667), 419.5, 32, fill=False, lw=1.3, edgecolor='black'))
txt(30, 677, 'Diagramme des ensembles GEFS sur 384h pour Izmit', size=8.3, fontweight='bold')
txt(30, 692, 'Températures 850hPa et 500hPa (°C) , précipitations (mm)')
txt(450, 676, 'Ensemble GEFS du 05/01/2026 - 00Z')
txt(450, 692, 'Copyright 2026 Meteociel.fr', size=8.3, fontweight='bold')

fig.savefig('out.png', dpi=100)
